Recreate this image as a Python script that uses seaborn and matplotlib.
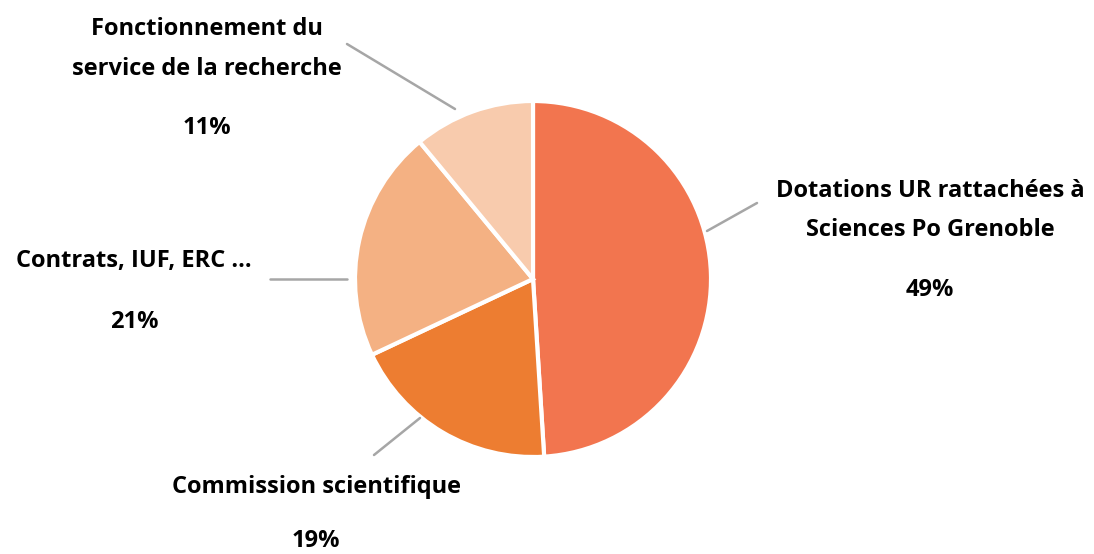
import matplotlib
matplotlib.use("Agg")
import matplotlib.pyplot as plt
import seaborn as sns

# Données
categories = ["Dotations UR rattachées à\nSciences Po Grenoble",
              "Commission scientifique",
              "Contrats, IUF, ERC …",
              "Fonctionnement du\nservice de la recherche"]
parts = [49, 19, 21, 11]
couleurs = ["#F2754F", "#ED7D31", "#F4B183", "#F8CBAD"]

sns.set_theme(style="white")
plt.rcParams["font.family"] = ["Open Sans", "DejaVu Sans"]

W, H = 1094, 554
fig = plt.figure(figsize=(W / 100, H / 100), dpi=100)
ax = fig.add_axes([0, 0, 1, 1])

# Camembert (coordonnées en pixels, y vers le haut)
cx, cy, r = 533, H - 279, 178
ax.pie(parts, colors=couleurs, startangle=90, counterclock=False,
       center=(cx, cy), radius=r, frame=True,
       wedgeprops=dict(edgecolor="white", linewidth=3))
ax.set_xlim(0, W)
ax.set_ylim(0, H)
ax.set_aspect("equal")
ax.axis("off")

# Étiquettes : (x centre, y lignes du libellé, y du pourcentage) en pixels
positions = [
    (930, [191, 230], 290),
    (316, [487], 541),
    (134, [261], 322),
    (207, [29, 69], 128),
]
# Traits de rappel (x1, y1, x2, y2)
traits = [
    (707, 231, 757, 203),
    (420, 418, 374, 455),
    (347, 279, 270, 279),
    (455, 109, 347, 44),
]

for cat, val, (x, ys, yp), (x1, y1, x2, y2) in zip(categories, parts, positions, traits):
    for ligne, y in zip(cat.split("\n"), ys):
        ax.text(x, H - y, ligne, ha="center", va="center",
                fontsize=17, fontweight="bold", color="black")
    ax.text(x, H - yp, f"{val}%", ha="center", va="center",
            fontsize=17, fontweight="bold", color="black")
    ax.plot([x1, x2], [H - y1, H - y2], color="#A6A6A6", linewidth=1.8)

fig.savefig("out.png", dpi=100)
